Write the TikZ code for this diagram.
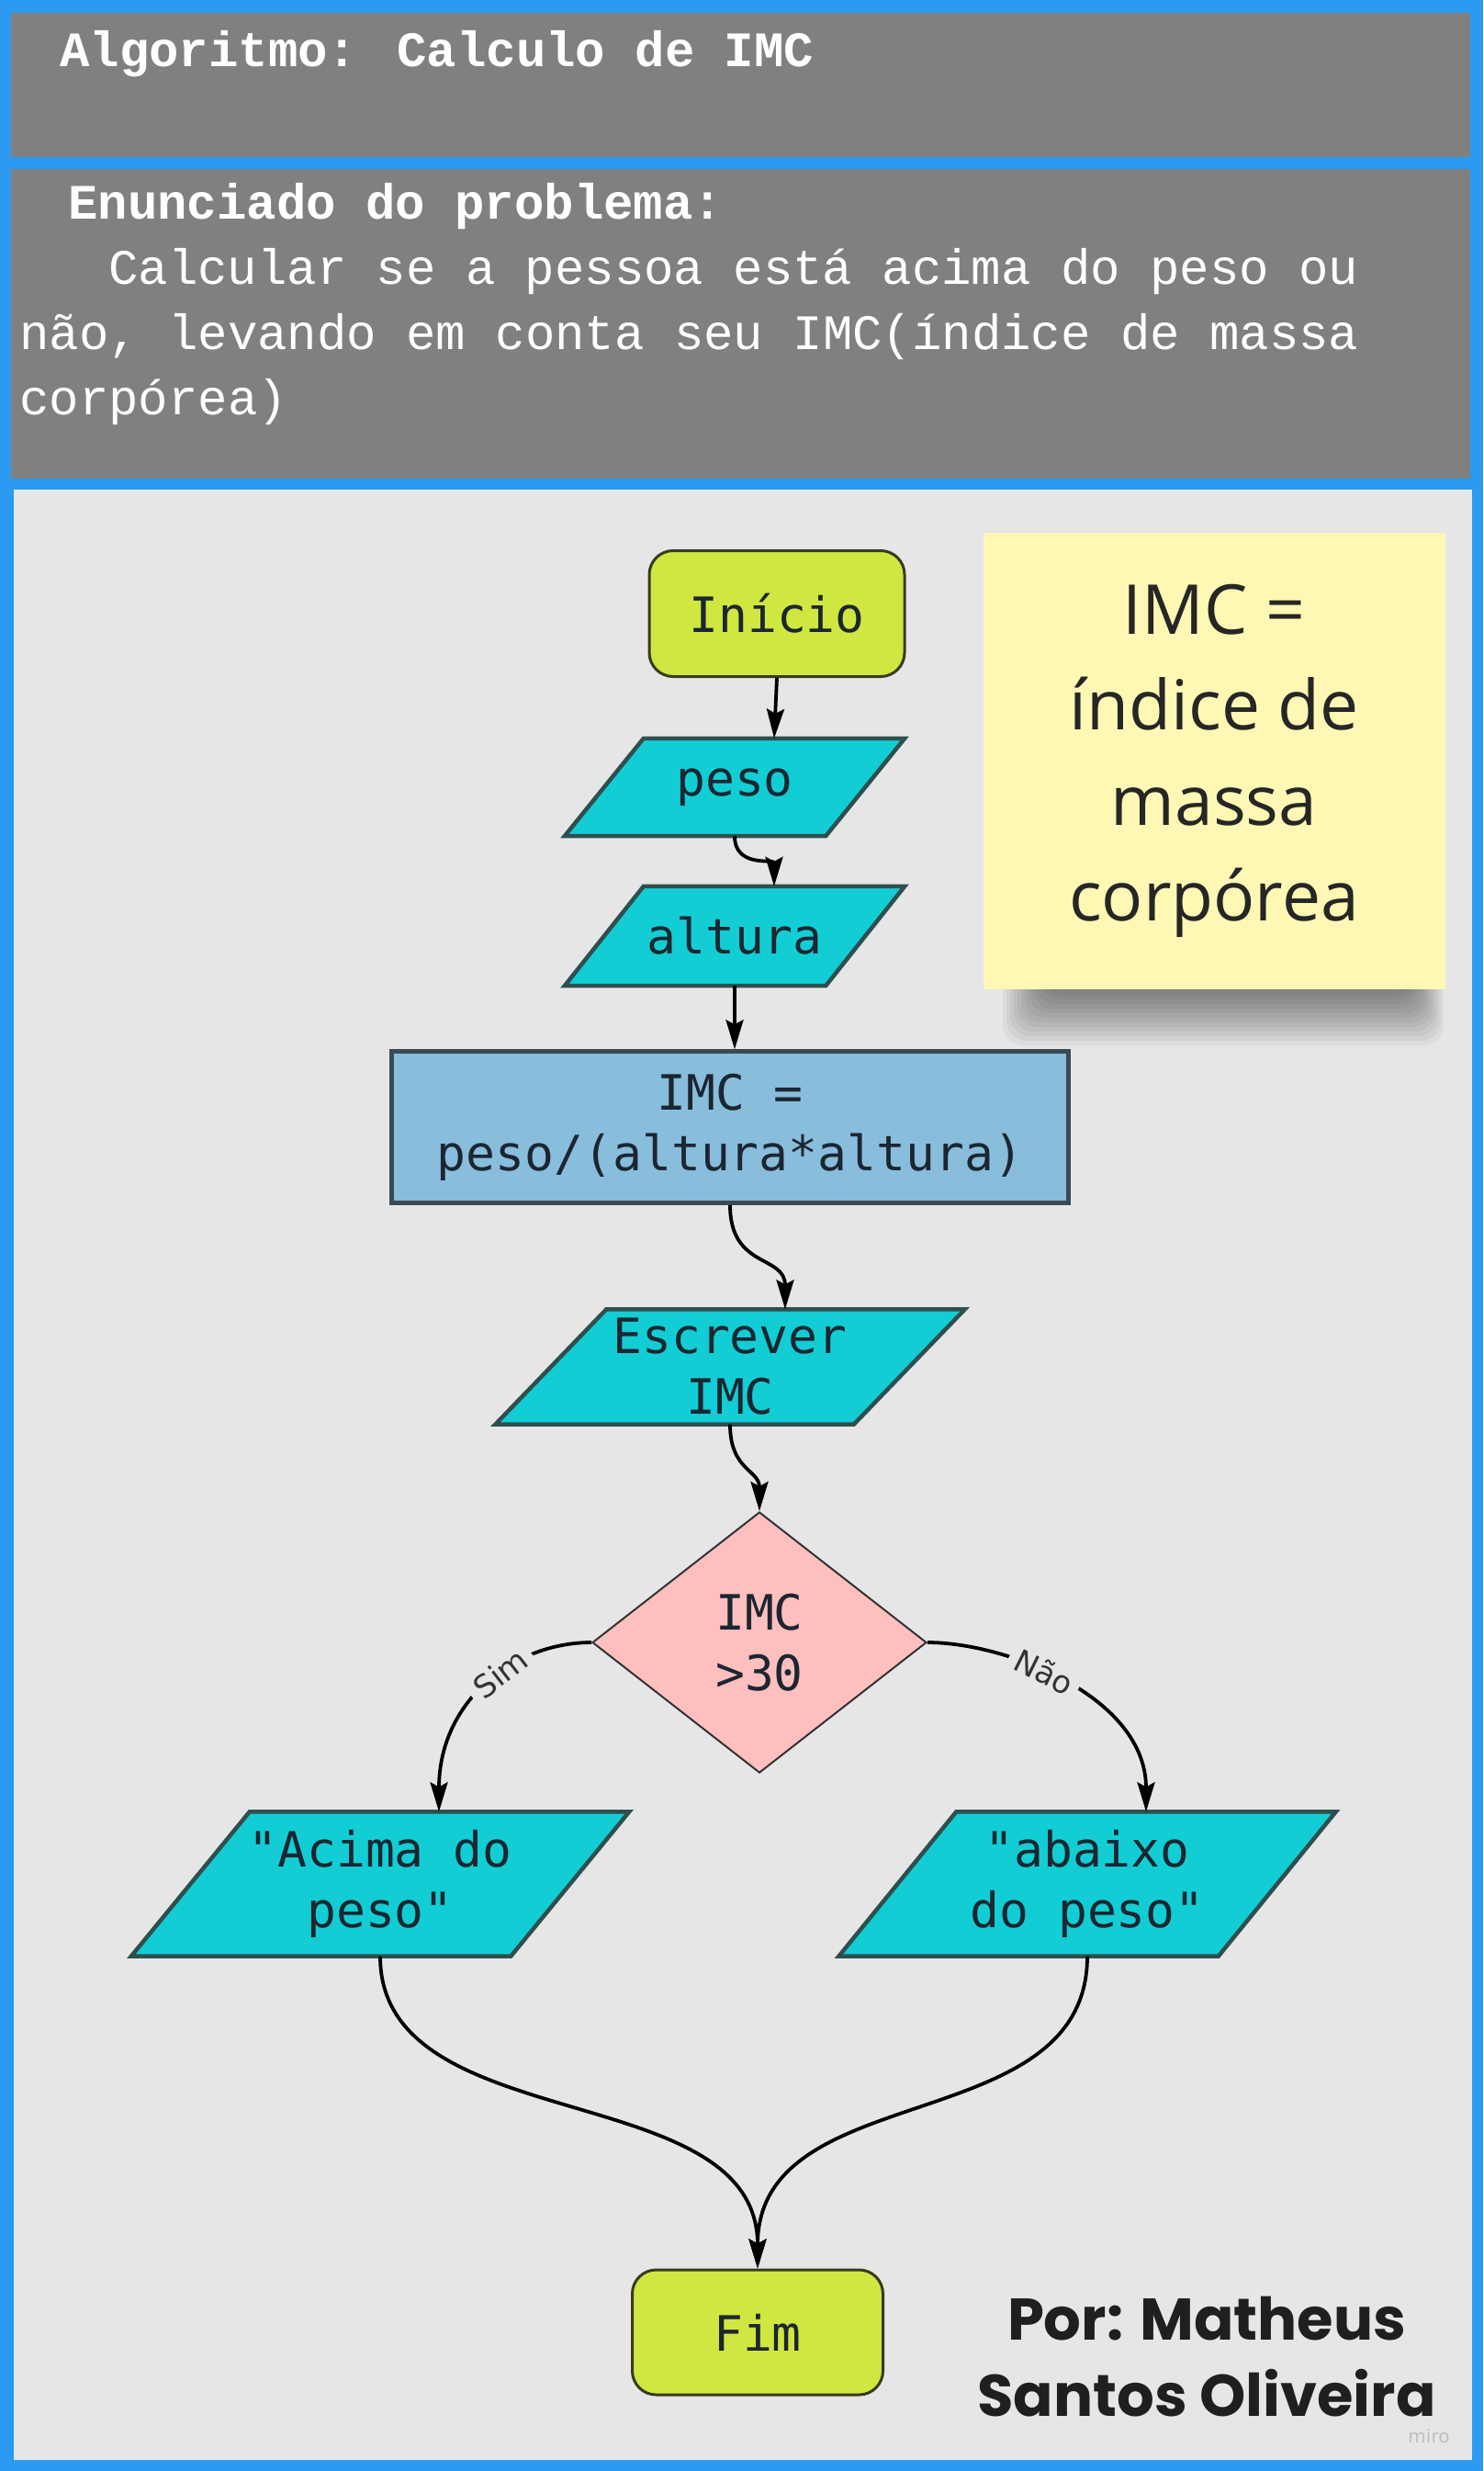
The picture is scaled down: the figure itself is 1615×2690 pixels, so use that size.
\documentclass[tikz,border=0pt]{standalone}
\usepackage{fontspec}
\usetikzlibrary{shapes.geometric,arrows.meta}
\newfontfamily\hmono{Liberation Mono}
\newfontfamily\fmono{DejaVu Sans Mono}
\newfontfamily\osans{Open Sans}
\newfontfamily\dvsans{DejaVu Sans}
\newfontfamily\popf{Poppins}
\definecolor{framec}{HTML}{2B9AF0}
\definecolor{hdr}{HTML}{808080}
\definecolor{panel}{HTML}{E6E6E6}
\definecolor{limec}{HTML}{D0E641}
\definecolor{cyanc}{HTML}{12CDD4}
\definecolor{procblue}{HTML}{88BDDC}
\definecolor{pinkc}{HTML}{FFBFBF}
\definecolor{yellowc}{HTML}{FFF8B4}
\definecolor{txt}{HTML}{1C2630}
\definecolor{ioline}{HTML}{2F4F4F}
\definecolor{procline}{HTML}{3A4A55}
\definecolor{termline}{HTML}{3A3A1A}
\definecolor{labtxt}{HTML}{333333}
\pgfdeclarelayer{back0}
\pgfdeclarelayer{back1}
\pgfsetlayers{back0,back1,main}
\newcommand\iobox[6]{%
  \node[iotxt, minimum width=#3pt, minimum height=#4pt] (#1) at #2 {#6};
  \begin{pgfonlayer}{back1}
    \path[iopoly] ([xshift=#5pt/2]#1.north west) -- ([xshift=#5pt/2]#1.north east)
      -- ([xshift=-#5pt/2]#1.south east) -- ([xshift=-#5pt/2]#1.south west) -- cycle;
  \end{pgfonlayer}}
\begin{document}
\begin{tikzpicture}[x=1pt,y=-1pt,
  flow/.style={font=\fmono\fontsize{53}{66}\selectfont, text=txt, align=center, inner sep=0pt},
  term/.style={flow, draw=termline, line width=3pt, fill=limec, rounded corners=26pt},
  proc/.style={flow, draw=procline, line width=4.5pt, fill=procblue},
  decis/.style={flow, diamond, draw=labtxt, line width=2pt, fill=pinkc, aspect=1.28,
    minimum width=364pt, minimum height=284pt},
  iotxt/.style={flow},
  iopoly/.style={draw=ioline, line width=4.5pt, fill=cyanc, line join=miter},
  conn/.style={line width=3.8pt, draw=black, -{Stealth[length=32pt,width=19pt,inset=5pt]}},
  lab/.style={font=\dvsans\fontsize{34}{34}\selectfont, text=labtxt, fill=panel, inner sep=8pt, sloped},
  htitle/.style={font=\hmono\bfseries\fontsize{54}{54}\selectfont, text=white, inner sep=0pt, anchor=base west},
  hbody/.style={font=\hmono\fontsize{54}{54}\selectfont, text=white, inner sep=0pt, anchor=base west},
  sticky/.style={fill=yellowc, minimum width=503pt, minimum height=497pt, align=center,
    font=\osans\fontsize{75}{104}\selectfont, text=black!85, inner sep=0pt},
  author/.style={font=\popf\bfseries\fontsize{64}{83}\selectfont, text=black!88, align=center, inner sep=0pt},
]
\begin{pgfonlayer}{back0}
  \fill[framec] (0,0) rectangle (1615,2690);
  \fill[hdr] (12,14) rectangle (1601,171);
  \fill[hdr] (12,184) rectangle (1601,521);
  \fill[panel] (15,533) rectangle (1603,2678);
  % shadow of the sticky note
  \foreach \i in {0,...,15}
    \fill[black, opacity=0.045, rounded corners=22pt]
      (1092+4*\i,1050) rectangle (1572-3*\i,1138-5*\i);
\end{pgfonlayer}

% header texts
\node[htitle] (title) at (65,72) {Algoritmo: Calculo de IMC};
\node[htitle] (enun) at (74,238) {Enunciado do problema:};
\node[hbody] (l1) at (118,309) {Calcular se a pessoa está acima do peso ou};
\node[hbody] (l2) at (21,380) {não, levando em conta seu IMC(índice de massa};
\node[hbody] (l3) at (21,451) {corpórea)};

% sticky note
\node[sticky] (note) at (1322,828) {IMC =\\índice de\\massa\\corpórea};

% flowchart
\node[term, minimum width=278pt, minimum height=137pt] (ini) at (846,668) {Início};
\iobox{peso}{(800,857)}{284}{106}{86}{peso}
\iobox{alt}{(800,1019)}{284}{108}{86}{altura}
\node[proc, minimum width=737pt, minimum height=165pt] (imc) at (795,1227) {IMC =\\peso/(altura*altura)};
\iobox{esc}{(795,1488)}{390}{125}{121}{Escrever\\IMC}
\node[decis] (dec) at (827,1788) {IMC\\>30};
\iobox{acima}{(414,2051)}{413}{157}{129}{"Acima do\\peso"}
\iobox{abaixo}{(1184,2051)}{413}{157}{128}{"abaixo\\do peso"}
\node[term, minimum width=273pt, minimum height=136pt] (fim) at (825,2539) {Fim};

% connectors
\draw[conn] (ini.south) -- ([xshift=43pt]peso.north);
\draw[conn] (peso.south) .. controls +(0,35) and +(0,-30) .. ([xshift=43pt]alt.north);
\draw[conn] (alt.south) -- (alt.south |- imc.north);
\draw[conn] (imc.south) .. controls +(0,70) and +(0,-60) .. ([xshift=60pt]esc.north);
\draw[conn] (esc.south) .. controls +(0,50) and +(0,-45) .. (dec.north);
\draw[conn] (dec.west) .. controls +(-85,0) and +(0,-120) .. ([xshift=64pt]acima.north)
  node[lab, pos=0.42] (sim) {Sim};
\draw[conn] (dec.east) .. controls +(86,0) and +(0,-125) .. ([xshift=64pt]abaixo.north)
  node[lab, pos=0.42] (nao) {Não};
\draw[conn] (acima.south) .. controls +(0,200) and +(0,-210) .. (fim.north);
\draw[conn] (abaixo.south) .. controls +(0,200) and +(0,-210) .. (fim.north);

% author
\node[author] (by) at (1314,2566) {Por: Matheus\\Santos Oliveira};
\node[font=\dvsans\fontsize{20}{20}\selectfont, text=black!25, inner sep=0pt] (miro) at (1556,2652) {miro};
\end{tikzpicture}
\end{document}
